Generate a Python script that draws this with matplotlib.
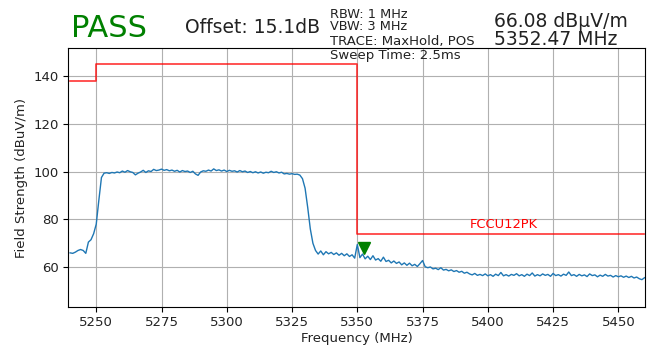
import numpy as np
import matplotlib
matplotlib.use("Agg")
import matplotlib.pyplot as plt

# sweep settings
start_freq = 5240
stop_freq = 5460

# measured trace, one reading per MHz from 5240 to 5460 (dBuV/m)
trace_level = [
    66.0, 65.8, 66.3, 67.0, 67.4, 67.0, 65.8, 70.5, 71.5, 74.0,
    78.0, 88.0, 97.5, 99.3, 99.5, 99.2, 99.6, 99.4, 99.8, 99.5,
    100.2, 99.7, 100.4, 99.9, 99.6, 98.6, 99.3, 99.8, 100.5, 99.6,
    100.3, 100.0, 100.9, 100.4, 100.6, 101.0, 100.5, 100.8, 100.3, 100.6,
    100.1, 100.5, 99.8, 100.4, 100.0, 100.2, 99.6, 100.1, 99.0, 98.4,
    99.8, 100.3, 100.1, 100.6, 100.2, 101.1, 100.4, 100.7, 100.2, 100.6,
    100.0, 100.5, 100.1, 100.3, 99.8, 100.4, 99.9, 100.2, 99.6, 100.0,
    99.5, 99.9, 99.4, 99.8, 99.3, 99.7, 99.5, 100.1, 99.6, 99.9,
    99.4, 99.7, 99.0, 99.2, 98.9, 99.1, 98.8, 98.9, 98.5, 97.0,
    93.0, 85.0, 76.0, 70.0, 67.0, 65.5, 66.8, 65.2, 66.5, 65.6,
    66.2, 65.3, 66.0, 65.0, 65.8, 64.8, 65.6, 64.5, 65.2, 63.8,
    69.5, 64.0, 65.5, 63.5, 64.6, 63.2, 64.8, 63.0, 63.6, 62.5,
    64.2, 62.4, 62.9, 61.8, 62.6, 61.6, 62.2, 61.0, 61.8, 60.8,
    61.7, 60.6, 61.2, 60.3, 61.5, 62.8, 60.2, 59.8, 60.1, 59.3,
    59.6, 59.0, 59.8, 58.8, 59.1, 58.5, 58.9, 58.2, 58.6, 57.9,
    58.3, 57.5, 57.9, 57.2, 56.8, 57.4, 56.6, 57.0, 56.5, 57.2,
    56.4, 56.9, 56.2, 57.1, 56.5, 57.8, 56.4, 56.9, 56.3, 57.0,
    56.6, 57.3, 56.4, 56.9, 56.2, 57.1, 56.5, 57.6, 56.3, 56.9,
    56.4, 57.2, 56.6, 57.0, 56.2, 57.4, 56.5, 56.9, 56.3, 57.1,
    56.6, 58.0, 56.5, 56.9, 56.2, 57.0, 56.4, 56.8, 56.1, 57.2,
    56.5, 56.8, 56.0, 56.7, 56.2, 57.0, 56.3, 56.6, 55.9, 56.5,
    56.0, 56.4, 55.8, 56.3, 55.7, 56.2, 55.5, 55.9, 55.2, 54.8,
    55.6,
]

# FCC limit mask (step edges)
limit_freq = [5240, 5250, 5250, 5350, 5350, 5460]
limit_level = [138, 138, 145, 145, 74, 74]
limit_name = "FCCU12PK"

# peak marker
marker_freq = 5352.47
marker_level = 66.08

freqs = np.linspace(start_freq, stop_freq, len(trace_level))

W, H = 652, 347
fig = plt.figure(figsize=(W / 100, H / 100), dpi=100)
ax = fig.add_axes([68.3 / W, 1 - 306.7 / H, (645 - 68.3) / W, (306.7 - 48.3) / H])

ax.plot(limit_freq, limit_level, color="red", linewidth=1.2, alpha=0.8)
ax.plot(freqs, trace_level, color="#1f77b4", linewidth=1.0)
ax.plot(marker_freq, marker_level + 1.9, marker="v", color="green",
        markersize=8, linestyle="none")
ax.text(5393, 74 + 2.2, limit_name, color="red", fontsize=9.4)

ax.set_xlim(5239.3, 5460.2)
ax.set_ylim(43.5, 151.5)
ax.set_xticks([5250, 5275, 5300, 5325, 5350, 5375, 5400, 5425, 5450])
ax.set_yticks([60, 80, 100, 120, 140])
ax.tick_params(labelsize=9.5, labelcolor="#222222")
ax.set_xlabel("Frequency (MHz)", fontsize=9.5, labelpad=2, color="#222222")
ax.set_ylabel("Field Strength (dBuV/m)", fontsize=9.5, color="#222222")
ax.grid(True)


def ftext(x, y, s, **kw):
    # x, y in pixels from the top-left corner, y is the baseline
    fig.text(x / W, 1 - y / H, s, va="baseline", ha="left", **kw)


ftext(71, 37, "PASS", color="green", fontsize=22)
ftext(185, 33, "Offset: 15.1dB", fontsize=13.5, color="#222222")
ftext(330, 17.5, "RBW: 1 MHz", fontsize=9.3, color="#222222")
ftext(330, 30, "VBW: 3 MHz", fontsize=9.3, color="#222222")
ftext(330, 44.5, "TRACE: MaxHold, POS", fontsize=9.5, color="#222222")
ftext(330, 59.5, "Sweep Time: 2.5ms", fontsize=9.5, color="#222222")
ftext(494, 27, "%.2f dBµV/m" % marker_level, fontsize=13.5, color="#222222")
ftext(494, 45, "%.2f MHz" % marker_freq, fontsize=13.5, color="#222222")

fig.savefig("out.png", dpi=100)
